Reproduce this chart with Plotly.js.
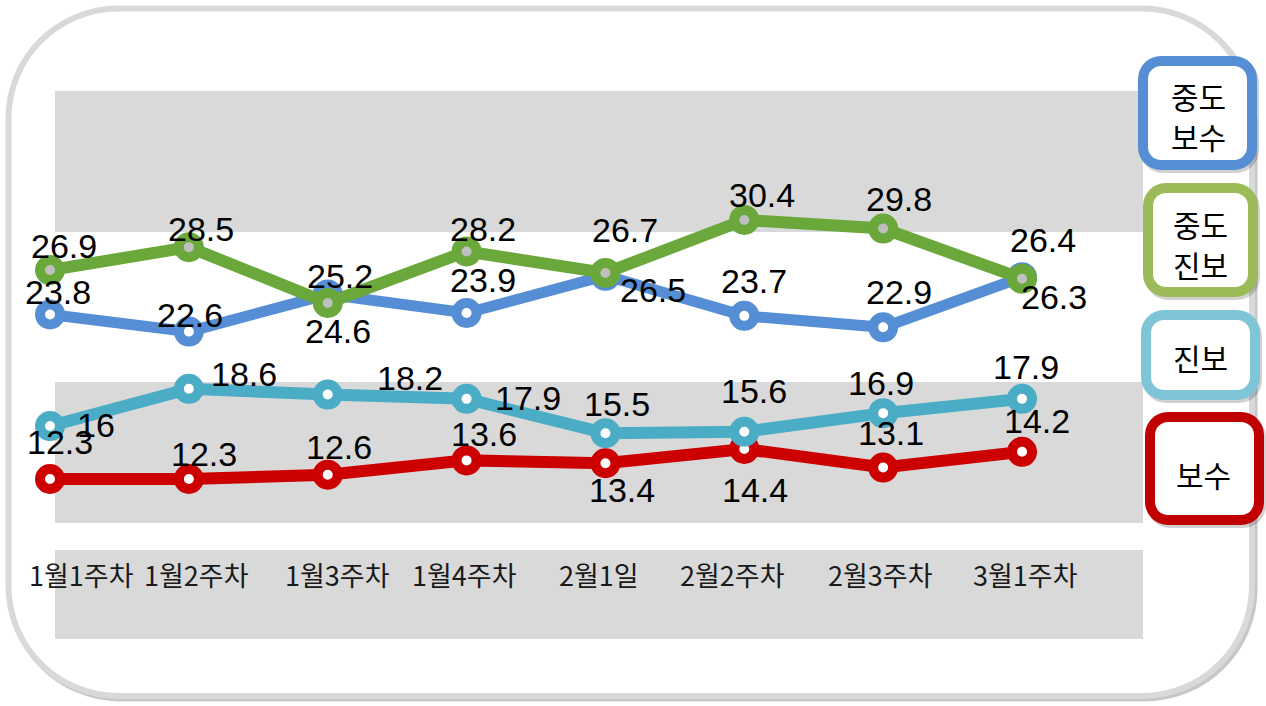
<!DOCTYPE html>
<html>
<head>
<meta charset="utf-8">
<script src="https://cdn.plot.ly/plotly-3.0.1.min.js"></script>
<style>
html,body{margin:0;padding:0;background:#fff;}
#chart{width:1266px;height:706px;}
</style>
</head>
<body>
<div id="chart"></div>
<script>
// ---------------- data ----------------
var categories = ['1월1주차','1월2주차','1월3주차','1월4주차','2월1일','2월2주차','2월3주차','3월1주차'];
var seriesNames = ['중도보수','중도진보','진보','보수'];
var midConservative = [23.8, 22.6, 25.2, 23.9, 26.5, 23.7, 22.9, 26.4];   // 중도보수
var midProgressive  = [26.9, 28.5, 24.6, 28.2, 26.7, 30.4, 29.8, 26.3];   // 중도진보
var progressive     = [16, 18.6, 18.2, 17.9, 15.5, 15.6, 16.9, 17.9];     // 진보
var conservative    = [12.3, 12.3, 12.6, 13.6, 13.4, 14.4, 13.1, 14.2];   // 보수
var legendLines = [['중도','보수'], ['중도','진보'], ['진보'], ['보수']];

// ---------------- label placement (pixel offsets, style only) ----------------
var offBlue  = [[8,-20],[1,-15],[12,-16],[16,-31],[48,16],[10,-33],[16,-33],[21,-35]];
var offGreen = [[14,-22],[12,-16],[10,30],[16,-20],[20,-41],[18,-23],[16,-28],[32,20]];
var offCyan  = [[46,1],[55,-13],[82,-15],[61,1],[12,-27],[10,-39],[-2,-28],[4,-30]];
var offRed   = [[10,-35],[15,-23],[11,-26],[17,-24],[17,29],[11,43],[8,-33],[15,-29]];
var tickShift = [31, 8, 10, -2, -6, -12, -3, 3];

// ---------------- geometry ----------------
var ML = 10, MR = 123, MT = 20, MB = 46;
var FW = 1266, FH = 706;
var PW = FW - ML - MR, PH = FH - MT - MB;
function px(p){ return (p - ML) / PW; }
function py(p){ return (FH - MB - p) / PH; }
function pt(x, y){ return px(x).toFixed(5) + ',' + py(y).toFixed(5); }
function roundRect(x0, y0, x1, y1, r){
  var k = 0.5523 * r;
  return 'M' + pt(x0 + r, y0) +
    ' L' + pt(x1 - r, y0) +
    ' C' + pt(x1 - r + k, y0) + ' ' + pt(x1, y0 + r - k) + ' ' + pt(x1, y0 + r) +
    ' L' + pt(x1, y1 - r) +
    ' C' + pt(x1, y1 - r + k) + ' ' + pt(x1 - r + k, y1) + ' ' + pt(x1 - r, y1) +
    ' L' + pt(x0 + r, y1) +
    ' C' + pt(x0 + r - k, y1) + ' ' + pt(x0, y1 - r + k) + ' ' + pt(x0, y1 - r) +
    ' L' + pt(x0, y0 + r) +
    ' C' + pt(x0, y0 + r - k) + ' ' + pt(x0 + r - k, y0) + ' ' + pt(x0 + r, y0) + ' Z';
}
function band(x0, y0, x1, y1){
  return {type:'rect', xref:'paper', yref:'paper', x0:px(x0), x1:px(x1), y0:py(y1), y1:py(y0),
          fillcolor:'#d9d9d9', line:{width:0}, layer:'below'};
}

var COL = {blue:'#558ed5', green:'#6aa83c', cyan:'#4bacc6', red:'#cc0000'};

function lineTrace(name, vals, color, fill, lw){
  return {
    type:'scatter', mode:'lines+markers', name:name, x:categories, y:vals,
    line:{color:color, width:lw},
    marker:{symbol:'circle', size:20, color:fill, line:{color:color, width:10}},
    cliponaxis:false, hoverinfo:'skip'
  };
}

var traces = [
  lineTrace(seriesNames[3], conservative, COL.red, '#ffffff', 12),
  lineTrace(seriesNames[2], progressive, COL.cyan, '#ffffff', 12),
  lineTrace(seriesNames[0], midConservative, COL.blue, '#ffffff', 11),
  lineTrace(seriesNames[1], midProgressive, COL.green, '#bfbfbf', 12)
];

var annotations = [];
function addLabels(vals, offs){
  for (var i = 0; i < vals.length; i++){
    annotations.push({
      xref:'x', yref:'y', x:categories[i], y:vals[i], text:String(vals[i]),
      showarrow:false, xanchor:'center', yanchor:'middle',
      xshift:offs[i][0], yshift:-offs[i][1] + 2,
      font:{family:'"Liberation Sans", Arial, sans-serif', size:34, color:'#000000'}
    });
  }
}
addLabels(conservative, offRed);
addLabels(progressive, offCyan);
addLabels(midConservative, offBlue);
addLabels(midProgressive, offGreen);

// category labels along the x axis
categories.forEach(function(c, i){
  annotations.push({
    xref:'x', yref:'paper', x:c, y:py(574), text:c, showarrow:false,
    xanchor:'center', yanchor:'middle', xshift:tickShift[i],
    font:{family:'"Noto Sans CJK KR", sans-serif', size:27, color:'#1a1a1a'}
  });
});

// legend boxes
var legendBoxes = [
  {box:[1143,61,1252,165], color:'#558ed5', ys:[96,136], cx:1198},
  {box:[1148,188,1253,292], color:'#9bbb59', ys:[224,264], cx:1200},
  {box:[1146,315,1255,395], color:'#7fc5d8', ys:[357], cx:1200},
  {box:[1150,417,1259,520], color:'#c00000', ys:[474], cx:1203}
];

var shapes = [];
// outer frame (shadow + border)
shapes.push({type:'path', xref:'paper', yref:'paper', path:roundRect(10.5, 11.5, 1254.5, 698.5, 110),
  line:{color:'rgba(0,0,0,0.22)', width:6}, fillcolor:'rgba(0,0,0,0)', layer:'below'});
shapes.push({type:'path', xref:'paper', yref:'paper', path:roundRect(8.5, 8.5, 1252, 696, 110),
  line:{color:'#d9d9d9', width:6}, fillcolor:'#ffffff', layer:'below'});
// gray bands
shapes.push(band(55, 91, 1143, 232));
shapes.push(band(55, 382, 1143, 523));
shapes.push(band(55, 550, 1143, 639));
// legend boxes
legendBoxes.forEach(function(b, bi){
  var bx = b.box;
  shapes.push({type:'path', xref:'paper', yref:'paper', path:roundRect(bx[0]+2, bx[1]+3, bx[2]+2, bx[3]+3, 18),
    line:{color:'rgba(0,0,0,0.18)', width:10}, fillcolor:'rgba(0,0,0,0)', layer:'above'});
  shapes.push({type:'path', xref:'paper', yref:'paper', path:roundRect(bx[0], bx[1], bx[2], bx[3], 18),
    line:{color:b.color, width:10}, fillcolor:'#ffffff', layer:'above'});
  legendLines[bi].forEach(function(t, li){
    annotations.push({xref:'paper', yref:'paper', x:px(b.cx), y:py(b.ys[li]), text:t,
      showarrow:false, xanchor:'center', yanchor:'middle', align:'center',
      font:{family:'"Noto Sans CJK KR", sans-serif', size:30, color:'#000000'}});
  });
});

var layout = {
  width:FW, height:FH,
  margin:{l:ML, r:MR, t:MT, b:MB, pad:0},
  paper_bgcolor:'#ffffff', plot_bgcolor:'rgba(0,0,0,0)',
  showlegend:false,
  xaxis:{
    type:'category', range:[(ML - 50) / 138.86, (ML + PW - 50) / 138.86],
    showgrid:false, zeroline:false, showline:false, ticks:'', showticklabels:false,
    fixedrange:true
  },
  yaxis:{
    range:[(655 - (FH - MB)) / 14.31, (655 - MT) / 14.31],
    visible:false, showgrid:false, zeroline:false, fixedrange:true
  },
  shapes:shapes,
  annotations:annotations
};

Plotly.newPlot('chart', traces, layout, {displayModeBar:false, staticPlot:true});
</script>
</body>
</html>
